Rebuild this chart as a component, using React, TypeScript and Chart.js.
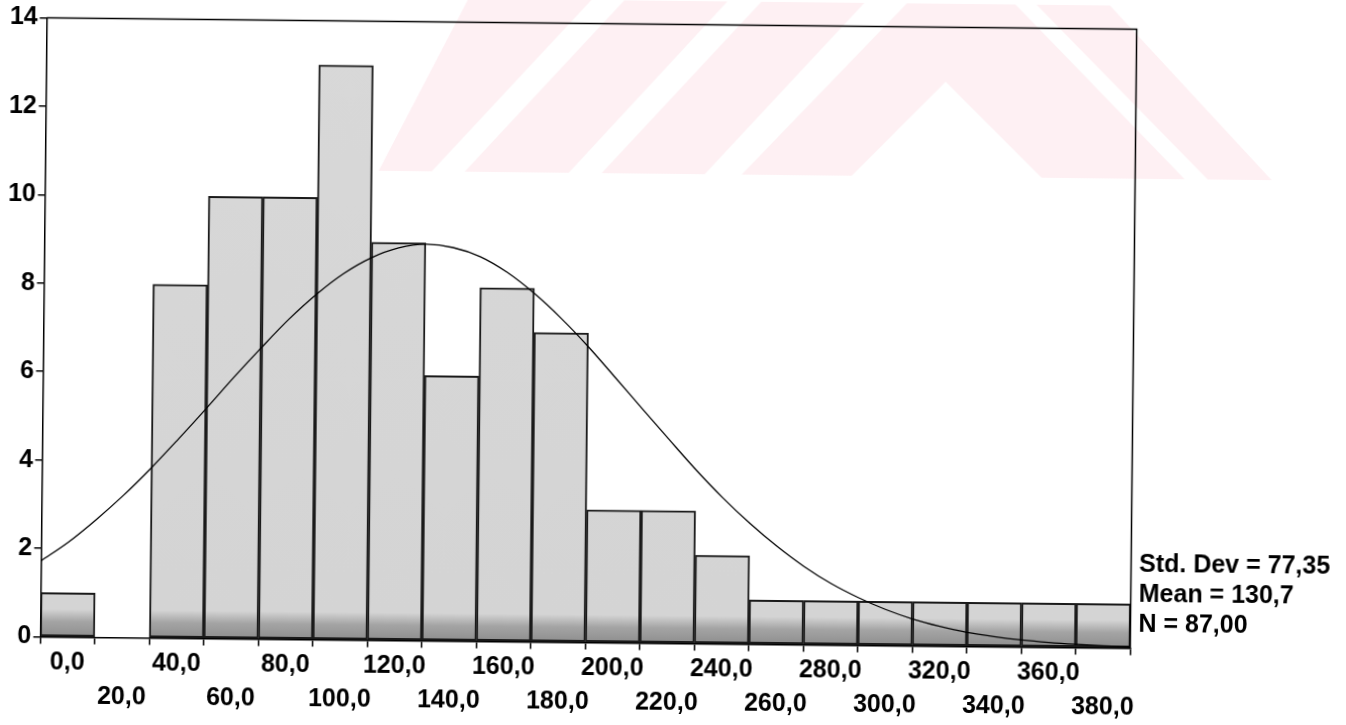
import { useEffect, useRef } from 'react';
import { Chart, registerables } from 'chart.js';

Chart.register(...registerables);

// Histogram bins (centre of each 20-wide bin) and counts
const binCenters = [0, 20, 40, 60, 80, 100, 120, 140, 160, 180, 200, 220, 240, 260, 280, 300, 320, 340, 360, 380];
const binCounts = [1, 0, 8, 10, 10, 13, 9, 6, 8, 7, 3, 3, 2, 1, 1, 1, 1, 1, 1, 1];
const xTickLabels = ['0,0', '20,0', '40,0', '60,0', '80,0', '100,0', '120,0', '140,0', '160,0', '180,0', '200,0', '220,0', '240,0', '260,0', '280,0', '300,0', '320,0', '340,0', '360,0', '380,0'];

// Fitted normal curve
const curveX = [-10, 0, 10, 20, 30, 40, 50, 60, 70, 80, 90, 100, 110, 120, 130, 140, 150, 160, 170, 180, 190, 200, 210, 220, 230, 240, 250, 260, 270, 280, 290, 300, 310, 320, 330, 340, 350, 360, 370, 380, 390];
const curveY = [1.72, 2.15, 2.66, 3.22, 3.84, 4.51, 5.2, 5.91, 6.59, 7.24, 7.81, 8.29, 8.65, 8.88, 8.97, 8.9, 8.7, 8.35, 7.88, 7.32, 6.69, 6.0, 5.3, 4.61, 3.93, 3.3, 2.73, 2.22, 1.77, 1.39, 1.08, 0.82, 0.61, 0.45, 0.32, 0.23, 0.16, 0.11, 0.075, 0.05, 0.033];

const statsLines = ['Std. Dev = 77,35', 'Mean = 130,7', 'N = 87,00'];

const FONT = '"Liberation Sans", Arial, Helvetica, sans-serif';

const watermarkPlugin = {
  id: 'watermark',
  beforeDraw(chart: any) {
    const c = chart.ctx;
    c.save();
    const poly = (pts: number[][], color: string) => {
      c.beginPath();
      c.moveTo(pts[0][0], pts[0][1]);
      for (let i = 1; i < pts.length; i++) c.lineTo(pts[i][0], pts[i][1]);
      c.closePath();
      c.fillStyle = color;
      c.fill();
    };
    const pink = '#fef0f3';
    const white = '#ffffff';
    poly([[470, -10], [1097, -10], [1270, 173], [377, 173]], pink);
    poly([[597, -10], [630, -10], [463, 173], [430, 173]], white);
    poly([[733, -10], [767, -10], [600, 173], [567, 173]], white);
    poly([[870, -10], [913, -10], [740, 173], [703, 173]], white);
    poly([[1012, 0], [1033, 0], [1206, 173], [1183, 173]], white);
    poly([[943, 78], [1040, 173], [850, 173]], white);
    c.restore();
  },
};

const framePlugin = {
  id: 'frame',
  afterDraw(chart: any) {
    const { ctx: c, chartArea: a } = chart;
    c.save();
    c.strokeStyle = '#000';
    c.lineWidth = 1.5;
    c.beginPath();
    c.moveTo(a.left, a.top);
    c.lineTo(a.right, a.top);
    c.lineTo(a.right, a.bottom);
    c.stroke();
    c.fillStyle = '#000';
    c.font = `bold 25px ${FONT}`;
    c.textAlign = 'left';
    c.textBaseline = 'alphabetic';
    const offs = [77, 47, 17];
    statsLines.forEach((t, i) => c.fillText(t, a.right + 8, a.bottom - offs[i]));
    c.restore();
  },
};

export default function App() {
  const ref = useRef<HTMLCanvasElement | null>(null);

  useEffect(() => {
    document.body.style.margin = '0';
    const canvas = ref.current;
    if (!canvas) return;

    const barFill = (ctx: any) => {
      const chart = ctx.chart;
      const a = chart.chartArea;
      if (!a) return '#d4d4d4';
      const g = chart.ctx.createLinearGradient(0, a.top, 0, a.bottom);
      g.addColorStop(0, '#d8d8d8');
      g.addColorStop(0.955, '#d4d4d4');
      g.addColorStop(0.975, '#a4a4a4');
      g.addColorStop(1, '#8e8e8e');
      return g;
    };

    const chart = new Chart(canvas, {
      type: 'bar',
      data: {
        datasets: [
          {
            type: 'line',
            data: curveX.map((x, i) => ({ x, y: curveY[i] })),
            borderColor: '#000',
            borderWidth: 1.3,
            pointRadius: 0,
            cubicInterpolationMode: 'monotone',
            fill: false,
            order: 0,
          } as any,
          {
            type: 'bar',
            data: binCenters.map((x, i) => ({ x, y: binCounts[i] })),
            backgroundColor: barFill,
            borderColor: '#1a1a1a',
            borderWidth: 2,
            borderSkipped: false,
            barPercentage: 1,
            categoryPercentage: 1,
            order: 1,
          } as any,
        ],
      },
      options: {
        animation: false,
        responsive: true,
        maintainAspectRatio: false,
        layout: { padding: { top: 23.5, right: 212.5, left: 0, bottom: 0 } },
        plugins: { legend: { display: false }, tooltip: { enabled: false } },
        scales: {
          x: {
            type: 'linear',
            min: -10,
            max: 390,
            offset: false,
            afterBuildTicks: (scale: any) => {
              scale.ticks = binCenters.map((v) => ({ value: v }));
            },
            afterFit: (scale: any) => {
              scale.height = 82.5;
            },
            grid: { display: true, drawOnChartArea: false, drawTicks: true, tickLength: 7, color: '#000', lineWidth: 1.5 },
            border: { display: true, color: '#000', width: 1.5 },
            ticks: {
              autoSkip: false,
              maxRotation: 0,
              minRotation: 0,
              padding: 2,
              color: '#000',
              font: { family: FONT, size: 25, weight: 'bold', lineHeight: '34px' } as any,
              callback: (_v: any, index: number) =>
                index % 2 === 0 ? [xTickLabels[index]] : ['', xTickLabels[index]],
            },
          },
          y: {
            type: 'linear',
            min: 0,
            max: 14,
            afterFit: (scale: any) => {
              scale.width = 43.5;
            },
            grid: { display: true, drawOnChartArea: false, drawTicks: true, tickLength: 7, color: '#000', lineWidth: 1.5 },
            border: { display: true, color: '#000', width: 1.5 },
            ticks: {
              stepSize: 2,
              padding: 2,
              color: '#000',
              font: { family: FONT, size: 25, weight: 'bold' },
            },
          },
        },
      } as any,
      plugins: [watermarkPlugin, framePlugin],
    });

    return () => chart.destroy();
  }, []);

  return (
    <div
      style={{
        position: 'fixed',
        left: 0,
        top: 0,
        width: 1346,
        height: 725,
        background: '#fff',
        transform: 'rotate(0.6deg)',
        transformOrigin: '588px 333px',
      }}
    >
      <canvas ref={ref} />
    </div>
  );
}
